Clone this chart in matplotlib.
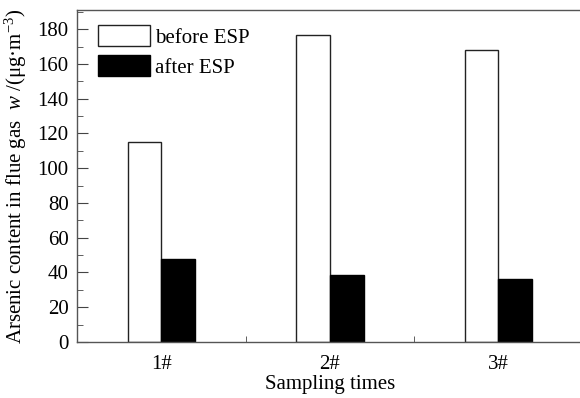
import matplotlib
matplotlib.use("Agg")
import matplotlib.pyplot as plt
import numpy as np
from matplotlib.ticker import MultipleLocator, FixedLocator

plt.rcParams['font.family'] = ['Liberation Serif', 'DejaVu Serif']
plt.rcParams['mathtext.fontset'] = 'custom'
plt.rcParams['mathtext.rm'] = 'Liberation Serif'
plt.rcParams['mathtext.it'] = 'Liberation Serif:italic'

# data
samples = ['1#', '2#', '3#']
before_esp = [115, 176.5, 168]
after_esp = [48, 38.5, 36.5]

x = np.arange(1, len(samples) + 1)
w = 0.2

fig = plt.figure(figsize=(5.8, 3.98), dpi=100)
ax = fig.add_axes([0.1328, 0.1407, 0.872, 0.834])

ax.bar(x - w / 2, before_esp, w, color='white', edgecolor='#222222', linewidth=1.0, label='before ESP')
ax.bar(x + w / 2, after_esp, w, color='black', edgecolor='black', linewidth=1.0, label='after ESP')

ax.set_xlim(0.5, 3.5)
ax.set_ylim(0, 191)
ax.set_xticks(x)
ax.set_xticklabels(samples)
ax.xaxis.set_minor_locator(FixedLocator([1.5, 2.5]))
ax.yaxis.set_major_locator(MultipleLocator(20))
ax.yaxis.set_minor_locator(MultipleLocator(10))

ax.tick_params(axis='x', which='major', length=0, pad=9, labelsize=15)
ax.tick_params(axis='x', which='minor', direction='in', length=4, color='#444444')
ax.tick_params(axis='y', which='major', direction='in', length=8, labelsize=15, color='#444444', pad=6)
ax.tick_params(axis='y', which='minor', direction='in', length=4, color='#444444')

for s in ['left', 'bottom', 'top']:
    ax.spines[s].set_color('#555555')
    ax.spines[s].set_linewidth(1.0)
ax.spines['right'].set_visible(False)

ax.set_xlabel('Sampling times', fontsize=15, labelpad=1)
ax.set_ylabel(r'Arsenic content in flue gas  $w$ /(μg·m$^{-3}$)', fontsize=15, labelpad=6)

ax.legend(loc='upper left', frameon=False, fontsize=15, handlelength=2.5, handleheight=1.2,
          handletextpad=0.25, labelspacing=0.35, borderaxespad=0.0, bbox_to_anchor=(0.025, 0.98))

fig.savefig('out.png', dpi=100)
